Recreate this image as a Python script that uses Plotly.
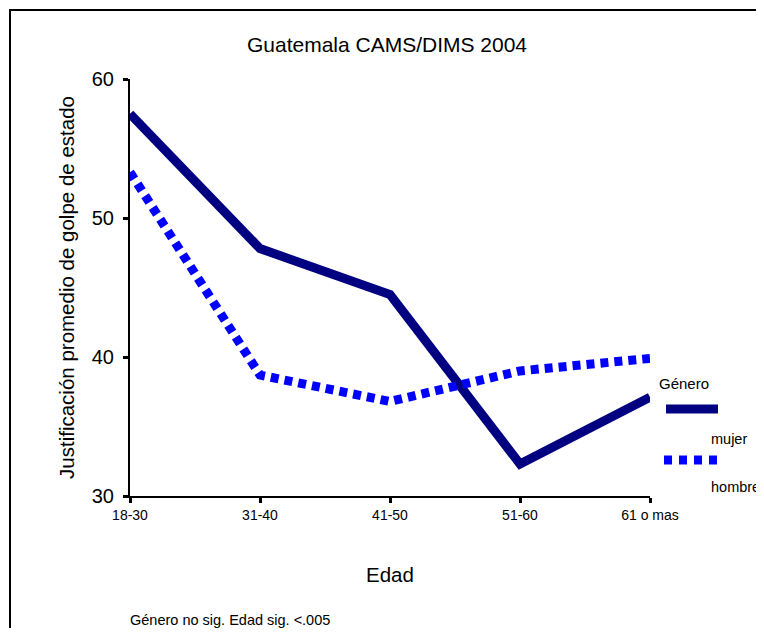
import plotly.graph_objects as go

edad = ["18-30", "31-40", "41-50", "51-60", "61 o mas"]
mujer = [57.5, 47.8, 44.5, 32.3, 37.1]
hombre = [53.3, 38.7, 36.8, 39.0, 39.9]
y_ticks = [30, 40, 50, 60]

# page body has an 8px margin, so figure coords = screen coords - 8
W, H = 756, 620
L, T, PW, PH = 122, 71, 520, 417
R, B = W - L - PW, H - T - PH

def px(x):  # screen x -> paper
    return (x - 8 - L) / PW

def py(y):  # screen y -> paper
    return (T + PH - (y - 8)) / PH

fig = go.Figure()
fig.add_trace(go.Scatter(x=edad, y=mujer, mode="lines", name="mujer",
                         line=dict(color="#000080", width=9)))
fig.add_trace(go.Scatter(x=edad, y=hombre, mode="lines", name="hombre",
                         line=dict(color="#0000FF", width=9, dash="8px,6px")))

font = "Liberation Sans, Arial, sans-serif"
fig.update_layout(
    width=W, height=H, margin=dict(l=L, r=R, t=T, b=B),
    paper_bgcolor="white", plot_bgcolor="white", showlegend=False,
    font=dict(family=font, color="black"),
    title=dict(text="Guatemala CAMS/DIMS 2004", x=(387 - 8) / W, xanchor="center",
               y=1 - (45 - 8) / H, yanchor="middle", font=dict(size=21)),
    xaxis=dict(type="category", range=[0, 4], showgrid=False, zeroline=False,
               showline=True, linecolor="black", linewidth=2,
               ticks="outside", ticklen=5, tickwidth=3, tickcolor="black",
               tickfont=dict(size=14),
               title=dict(text="Edad", font=dict(size=20.5), standoff=46)),
    yaxis=dict(range=[30, 60], tickvals=y_ticks, showgrid=False, zeroline=False,
               showline=True, linecolor="black", linewidth=2,
               ticks="outside", ticklen=5, tickwidth=3, tickcolor="black",
               tickfont=dict(size=20), ticklabelstandoff=5,
               title=dict(text="Justificación promedio de golpe de estado",
                          font=dict(size=20.5), standoff=12)),
)

# legend drawn by hand (Excel-like layout)
fig.add_shape(type="line", xref="paper", yref="paper",
              x0=px(666), x1=px(718), y0=py(409), y1=py(409),
              line=dict(color="#000080", width=9))
fig.add_shape(type="line", xref="paper", yref="paper",
              x0=px(664), x1=px(718), y0=py(460), y1=py(460),
              line=dict(color="#0000FF", width=9, dash="8px,7px"))
for txt, x, y, s in [("Género", 657, 383, 15), ("mujer", 709, 439, 14.5),
                     ("hombre", 709, 487, 14.5)]:
    fig.add_annotation(text=txt, xref="paper", yref="paper", x=px(x), y=py(y),
                       xanchor="left", yanchor="middle", showarrow=False,
                       font=dict(size=s))

fig.add_annotation(text="Género no sig. Edad sig. <.005", xref="paper", yref="paper",
                   x=px(128), y=py(620), xanchor="left", yanchor="middle",
                   showarrow=False, font=dict(size=14.5))

# frame: a rectangle whose right and bottom sides fall outside the figure
fig.add_shape(type="rect", xref="paper", yref="paper",
              x0=px(10), x1=px(900), y0=py(10), y1=py(900),
              line=dict(color="black", width=2), fillcolor="rgba(0,0,0,0)",
              layer="below")

fig.write_html("out.html")
